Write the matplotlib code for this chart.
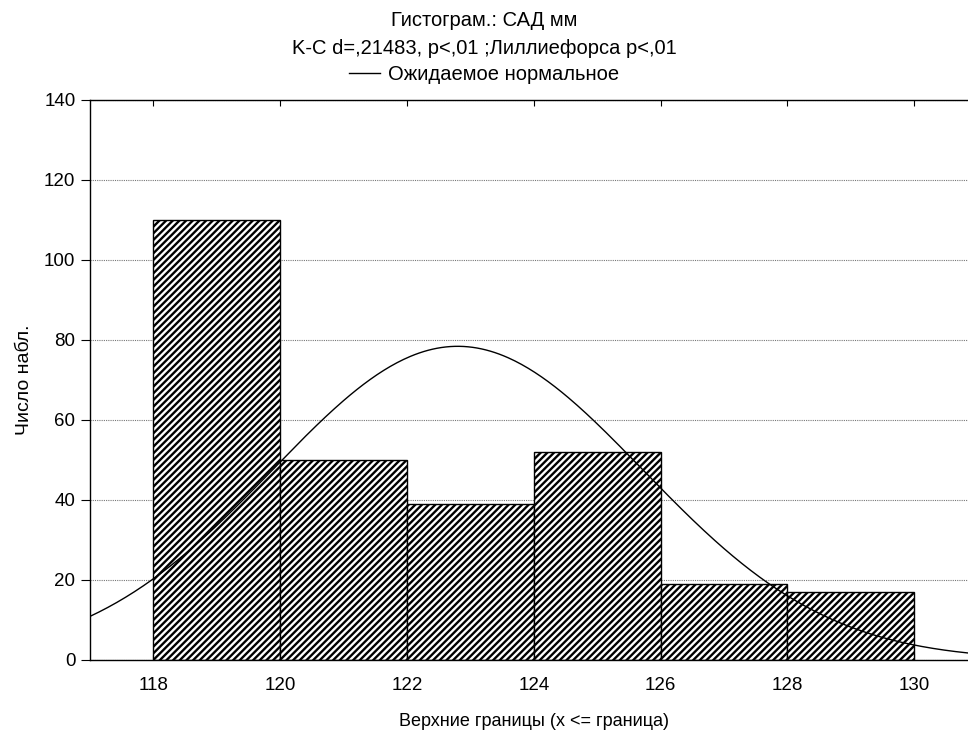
import matplotlib.pyplot as plt
import numpy as np
from matplotlib.lines import Line2D

plt.rcParams['font.family'] = ['Liberation Sans', 'DejaVu Sans']
plt.rcParams['hatch.linewidth'] = 1.7

# гистограмма САД: верхние границы интервалов и частоты
bin_edges = [118, 120, 122, 124, 126, 128, 130]
counts = [110, 50, 39, 52, 19, 17]
# параметры ожидаемого нормального распределения
mean_sad = 122.8
sd_sad = 2.92
n_obs = sum(counts)

title_lines = ['Гистограм.: САД мм',
               'K-C d=,21483, p<,01 ;Лиллиефорса p<,01']
legend_label = 'Ожидаемое нормальное'
xticks = [118, 120, 122, 124, 126, 128, 130]
yticks = [0, 20, 40, 60, 80, 100, 120, 140]

fig = plt.figure(figsize=(9.68, 7.33), dpi=100)
ax = fig.add_axes([90/968, 1-660/733, 887.5/968, 560/733])

lefts = bin_edges[:-1]
widths = np.diff(bin_edges)
ax.bar(lefts, counts, width=widths, align='edge', color='white',
       edgecolor='black', linewidth=1.0, hatch='/////', zorder=2)

x = np.linspace(117, 131, 400)
width = bin_edges[1] - bin_edges[0]
y = n_obs * width / (sd_sad * np.sqrt(2*np.pi)) * np.exp(-(x-mean_sad)**2/(2*sd_sad**2))
ax.plot(x, y, color='black', linewidth=1.0, zorder=3)

ax.set_xlim(117, 131)
ax.set_ylim(0, 140)
ax.set_xticks(xticks)
ax.set_yticks(yticks)
ax.yaxis.grid(True, linestyle=(0, (1, 1)), color='#777777', linewidth=0.8, zorder=0)
ax.set_axisbelow(True)
ax.tick_params(axis='x', direction='in', top=True, bottom=True, length=4,
               labelsize=13.5, pad=12)
ax.tick_params(axis='y', direction='out', length=6.5, labelsize=13.5, pad=4)
for s in ax.spines.values():
    s.set_linewidth(1.0)

ax.set_xlabel('Верхние границы (x <= граница)', fontsize=13, labelpad=14)
ax.set_ylabel('Число набл.', fontsize=14, labelpad=8)

fig.text(0.5, 1-20/733, title_lines[0], ha='center', va='center', fontsize=14.5)
fig.text(0.5, 1-48/733, title_lines[1], ha='center', va='center', fontsize=14.5)
handle = Line2D([], [], color='black', linewidth=1.0)
fig.legend([handle], [legend_label], loc='center', bbox_to_anchor=(0.5, 1-75/733),
           frameon=False, fontsize=14.5, handlelength=1.5, handletextpad=0.4,
           borderpad=0, borderaxespad=0)

fig.savefig('out.png', dpi=100)
